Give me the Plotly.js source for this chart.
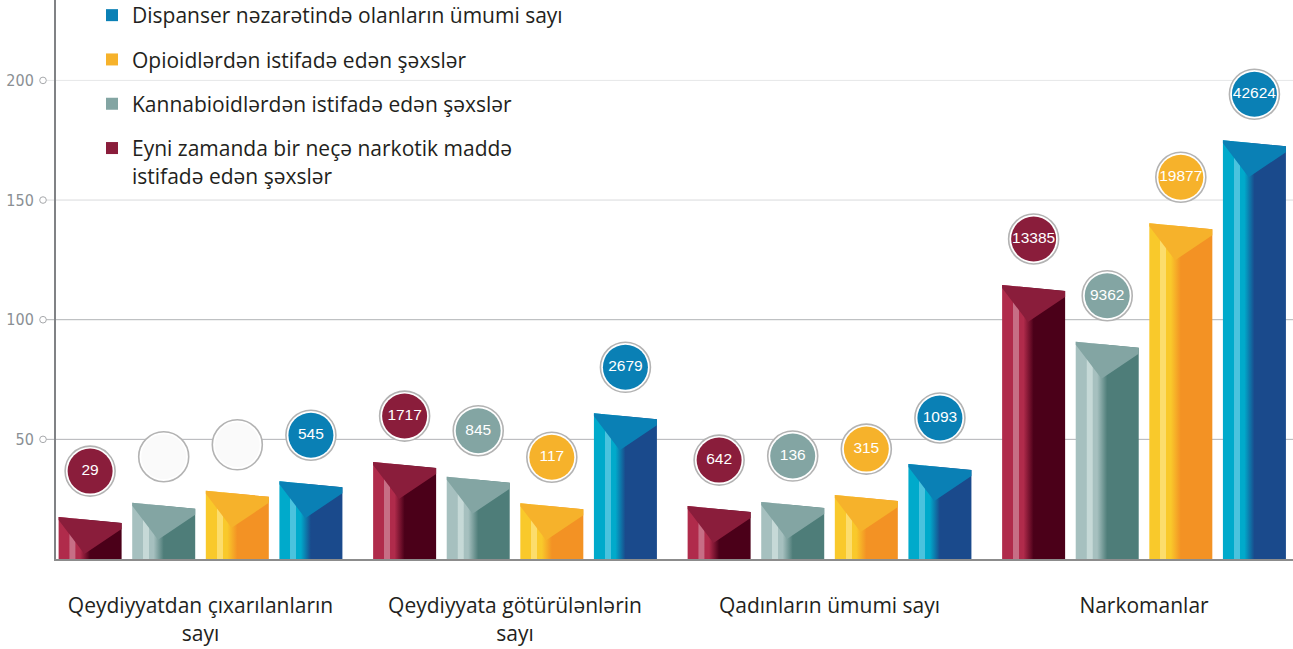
<!DOCTYPE html>
<html><head><meta charset="utf-8">
<script src="https://cdn.plot.ly/plotly-3.0.1.min.js"></script>
<style>html,body{margin:0;padding:0;background:#fff;} #chart{width:1293px;height:649px;}</style>
</head><body><div id="chart"></div>
<script>
// ---------- DATA ----------
const categories = ["Qeydiyyatdan çıxarılanların<br>sayı", "Qeydiyyata götürülənlərin<br>sayı", "Qadınların ümumi sayı", "Narkomanlar"];
const seriesNames = [
  "Eyni zamanda bir neçə narkotik maddə<br>istifadə edən şəxslər",
  "Kannabioidlərdən istifadə edən şəxslər",
  "Opioidlərdən istifadə edən şəxslər",
  "Dispanser nəzarətində olanların ümumi sayı"
];
// bar heights on the axis scale
const barMultiple  = [17.5, 40.5, 22.1, 114.5];
const barCannabis  = [23.5, 34.4, 23.8, 90.8];
const barOpioid    = [28.5, 23.3, 26.7, 140.3];
const barDispanser = [32.5, 60.9, 39.7, 175.0];
// numbers shown in the bubbles (null = empty bubble)
const labelMultiple  = [29, 1717, 642, 13385];
const labelCannabis  = [null, 845, 136, 9362];
const labelOpioid    = [null, 117, 315, 19877];
const labelDispanser = [545, 2679, 1093, 42624];
const yTicks = [50, 100, 150, 200];

// ---------- STYLE / GEOMETRY ----------
const bars = [barMultiple, barCannabis, barOpioid, barDispanser];
const labels = [labelMultiple, labelCannabis, labelOpioid, labelDispanser];
const legendOrder = [4, 3, 2, 1];
const styles = [
  {cap:'#8a1d3b', base:'#b02b4b', strip:'#c76e85', dark:'#4b0019'},
  {cap:'#83a5a3', base:'#a6c0bf', strip:'#c6d9d7', dark:'#4e7d79'},
  {cap:'#f6b22b', base:'#f9c92b', strip:'#fcdd6c', dark:'#f39224'},
  {cap:'#0a80b5', base:'#00aacb', strip:'#4ac3de', dark:'#1a4a8c'}
];
const W = 1293, H = 649;
const M = {l:56, r:0, t:0, b:90, autoexpand:false};
const plotW = W - M.l - M.r, plotH = H - M.t - M.b;
const yMax = 233.6;
const xRange = [-0.4595, 3.4737];
const xSpan = xRange[1] - xRange[0];
const pxX = plotW / xSpan;
const pxY = plotH / yMax;
const dy = p => p / pxY;
const dx = p => p / pxX;
const pitch = dx(73.6), bw = dx(63);

const traces = [];
bars.forEach((vals, s) => {
  const st = styles[s];
  const capX = [], capY = [], bx = [], by = [], txt = [], fills = [];
  vals.forEach((v, g) => {
    const xc = g + (s - 1.5) * pitch;
    const x0 = xc - bw / 2, x1 = xc + bw / 2, xm = x0 + 0.41 * bw;
    traces.push({
      type:'scatter', mode:'lines', x:[x0, x0, x1, x1, x0], y:[0, v, v - dy(6), 0, 0],
      fill:'toself', line:{width:0, color:st.dark}, hoverinfo:'skip', showlegend:false,
      fillgradient:{type:'horizontal', start:x0, stop:x1, colorscale:[
        [0, st.base], [0.17, st.base], [0.175, st.strip], [0.265, st.strip], [0.27, st.base],
        [0.34, st.base], [0.5, st.dark], [1, st.dark]]}
    });
    capX.push(x0, x1, x1, xm, x0, x0, null);
    capY.push(v, v - dy(6), v - dy(12), v - dy(37), v - dy(3), v, null);
    bx.push(xc); by.push(v + dy(46));
    const lb = labels[s][g];
    txt.push(lb === null ? '' : String(lb));
    fills.push(lb === null ? '#fafafa' : st.cap);
  });
  traces.push({type:'scatter', mode:'lines', x:capX, y:capY, fill:'toself', fillcolor:st.cap,
    line:{width:0, color:st.cap}, hoverinfo:'skip', showlegend:false});
  traces.push({type:'scatter', mode:'markers', x:bx, y:by, cliponaxis:false, hoverinfo:'skip', showlegend:false,
    marker:{size:50, color:'#ffffff', line:{color:'#b3b3b3', width:1.6}}});
  traces.push({type:'scatter', mode:'markers+text', x:bx, y:by, text:txt, textposition:'middle center',
    cliponaxis:false, hoverinfo:'skip', showlegend:false,
    textfont:{family:'"Liberation Sans", Arial, sans-serif', size:15.5, color:'#ffffff'},
    marker:{size:45, color:fills, line:{width:0}}});
});
// legend entries
bars.forEach((vals, s) => {
  traces.push({type:'bar', x:[null], y:[null], name:seriesNames[s], marker:{color:styles[s].cap},
    legendgroup:'g' + s, legendrank:legendOrder[s], showlegend:true, hoverinfo:'skip'});
});

const gridColors = {50:'#b1b3b6', 100:'#b1b3b6', 150:'#d9dadc', 200:'#e6e7e8'};
const shapes = [];
yTicks.forEach(t => {
  shapes.push({type:'line', xref:'paper', yref:'paper', layer:'below',
    x0:dx(-10) / xSpan, x1:1, y0:t / yMax, y1:t / yMax,
    line:{color:gridColors[t], width:1}});
  shapes.push({type:'circle', xref:'paper', yref:'paper', layer:'above',
    xsizemode:'pixel', ysizemode:'pixel', xanchor:dx(-13) / xSpan, yanchor:t / yMax,
    x0:-3.3, x1:3.3, y0:-3.3, y1:3.3, fillcolor:'#ffffff', line:{color:'#a7a9ac', width:1}});
});

const layout = {
  width:W, height:H, margin:M, paper_bgcolor:'#ffffff', plot_bgcolor:'rgba(0,0,0,0)',
  showlegend:true, shapes:shapes,
  legend:{x:(92 - M.l) / plotW, y:1 + 5 / plotH, xanchor:'left', yanchor:'top', bgcolor:'rgba(0,0,0,0)',
    traceorder:'grouped', tracegroupgap:14, valign:'top',
    font:{family:'"Open Sans", sans-serif', size:21, color:'#231f20'}},
  xaxis:{range:xRange, tickvals:[0, 1, 2, 3], ticktext:categories, showgrid:false, zeroline:false,
    showline:true, linecolor:'#8c8c8c', linewidth:2, ticks:'', ticklabelstandoff:27,
    tickfont:{family:'"Open Sans", sans-serif', size:21, color:'#231f20'}, fixedrange:true},
  yaxis:{range:[0, yMax], tickvals:yTicks, showgrid:false, zeroline:false, showline:true,
    linecolor:'#808285', linewidth:2, ticks:'', ticklabelstandoff:17,
    tickfont:{family:'"DejaVu Sans Condensed", "Liberation Sans Narrow", sans-serif', size:16, color:'#8a8f94'},
    fixedrange:true},
  bargap:0
};
Plotly.newPlot('chart', traces, layout, {displayModeBar:false, staticPlot:true});
</script>
</body></html>
